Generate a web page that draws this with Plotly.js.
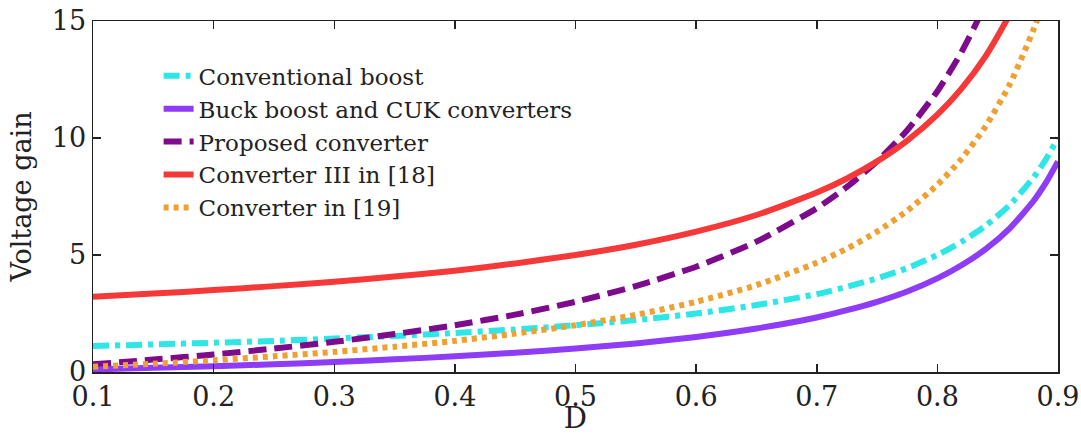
<!DOCTYPE html>
<html><head><meta charset="utf-8">
<script src="https://cdn.plot.ly/plotly-3.0.1.min.js"></script>
<style>html,body{margin:0;padding:0;background:#fff}#chart{width:1081px;height:435px}</style>
</head><body><div id="chart"></div>
<script>
var D = [0.10,0.15,0.20,0.25,0.30,0.35,0.40,0.45,0.50,0.55,0.60,0.65,0.70,0.725,0.75,0.775,0.80,0.82,0.84,0.86,0.88,0.89,0.90];
var conventionalBoost = [1.11,1.18,1.25,1.33,1.43,1.54,1.67,1.82,2.00,2.22,2.50,2.86,3.33,3.64,4.00,4.44,5.00,5.56,6.25,7.14,8.33,9.09,10.0];
var buckBoostCuk = [0.11,0.18,0.25,0.33,0.43,0.54,0.67,0.82,1.00,1.22,1.50,1.86,2.33,2.64,3.00,3.44,4.00,4.56,5.25,6.14,7.33,8.09,9.00];
var proposed = [0.33,0.53,0.75,1.00,1.29,1.62,2.00,2.45,3.00,3.67,4.50,5.57,7.00,7.91,9.00,10.33,12.00,13.67,15.75,18.43,22.0,24.27,27.0];
var converterIII18 = [3.22,3.35,3.50,3.67,3.86,4.08,4.33,4.64,5.00,5.44,6.00,6.71,7.67,8.27,9.00,9.89,11.00,12.11,13.50,15.29,17.67,19.18,21.0];
var converter19 = [0.22,0.35,0.50,0.67,0.86,1.08,1.33,1.64,2.00,2.44,3.00,3.71,4.67,5.27,6.00,6.89,8.00,9.11,10.50,12.29,14.67,16.18,18.0];
var names = ["Conventional boost","Buck boost and CUK converters","Proposed converter","Converter III in [18]","Converter in [19]"];
var xTicks = [0.1,0.2,0.3,0.4,0.5,0.6,0.7,0.8,0.9];
var yTicks = [0,5,10,15];

var W = 6;
function tr(y, name, color, dash){
  return {x: D, y: y, name: name, type: 'scatter', mode: 'lines',
    line: {color: color, width: W, dash: dash, shape: 'spline', smoothing: 0.6}};
}
var data = [
  tr(conventionalBoost, names[0], '#2ee6e6', '16px,6px,5px,6px'),
  tr(buckBoostCuk, names[1], '#8e3cf6', 'solid'),
  tr(proposed, names[2], '#7e0a8c', '18px,8px'),
  tr(converterIII18, names[3], '#f53838', 'solid'),
  tr(converter19, names[4], '#eea030', '5px,5px')
];
var FAM = 'DejaVu Serif, serif';
var layout = {
  width: 1081, height: 435,
  font: {family: FAM, color: '#222'},
  margin: {l: 93, r: 23, t: 21, b: 63, pad: 0},
  paper_bgcolor: '#fff', plot_bgcolor: '#fff',
  showlegend: true,
  legend: {x: 0.068, y: 0.905, xanchor: 'left', yanchor: 'top', bgcolor: 'rgba(0,0,0,0)',
    font: {family: FAM, size: 23, color: '#222'}, tracegroupgap: 0, itemwidth: 30},
  xaxis: {range: [0.1, 0.9], tickvals: xTicks, ticktext: xTicks.map(String),
    ticks: 'inside', ticklen: 8, tickwidth: 1.5, tickcolor: '#222',
    showline: true, linecolor: '#222', linewidth: 1.5, mirror: 'ticks',
    showgrid: false, zeroline: false,
    tickfont: {family: FAM, size: 27, color: '#222'},
    title: {text: 'D', font: {family: FAM, size: 29, color: '#222'}, standoff: 3}},
  yaxis: {range: [0, 15], tickvals: yTicks, ticktext: yTicks.map(String),
    ticks: 'inside', ticklen: 8, tickwidth: 1.5, tickcolor: '#222',
    showline: true, linecolor: '#222', linewidth: 1.5, mirror: 'ticks',
    showgrid: false, zeroline: false,
    tickfont: {family: FAM, size: 27, color: '#222'},
    title: {text: 'Voltage gain', font: {family: FAM, size: 27, color: '#222'}, standoff: 12}}
};
Plotly.newPlot('chart', data, layout, {staticPlot: true, displayModeBar: false});
</script></body></html>
